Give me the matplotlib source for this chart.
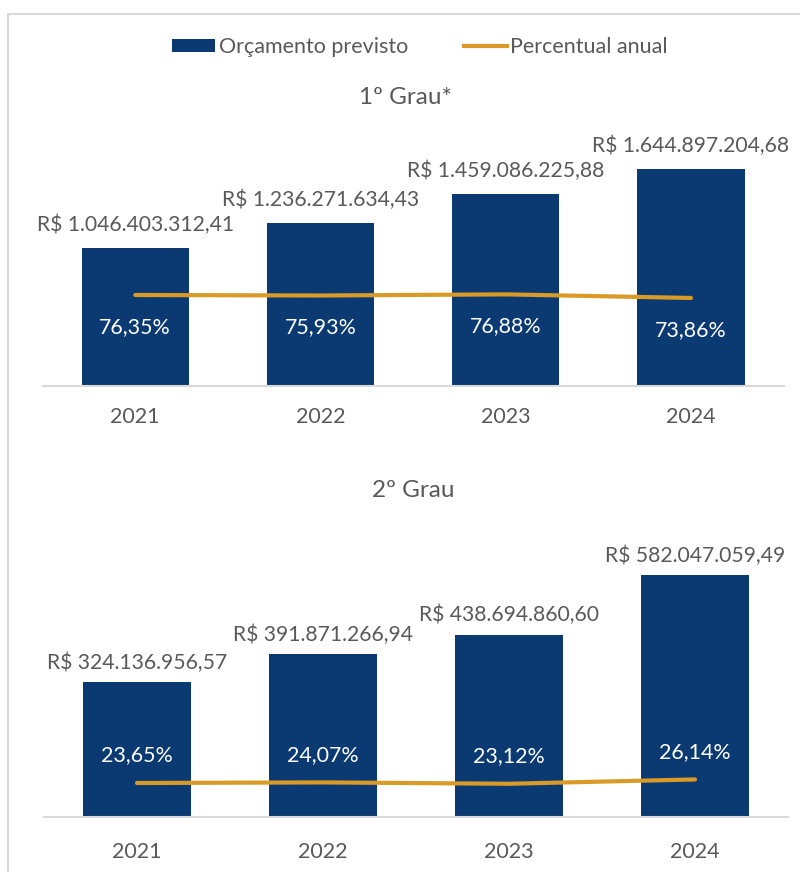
import matplotlib.pyplot as plt
from matplotlib.patches import Rectangle
from matplotlib.lines import Line2D
from matplotlib.patches import Patch

# dados
anos = ['2021', '2022', '2023', '2024']
orc_1grau = [1046403312.41, 1236271634.43, 1459086225.88, 1644897204.68]
pct_1grau = [76.35, 75.93, 76.88, 73.86]
orc_2grau = [324136956.57, 391871266.94, 438694860.60, 582047059.49]
pct_2grau = [23.65, 24.07, 23.12, 26.14]

AZUL = '#0B3A73'
OURO = '#D99A26'
CINZA = '#595959'
FONTE = ['Lato', 'DejaVu Sans']

plt.rcParams['font.family'] = FONTE


def brl(v):
    s = f'{v:,.2f}'
    s = s.replace(',', 'X').replace('.', ',').replace('X', '.')
    return 'R$ ' + s


def pct(v):
    return f'{v:.2f}%'.replace('.', ',')


fig = plt.figure(figsize=(8, 8.72), dpi=100)
W, H = 800, 872


def painel(rect, valores, percentuais, ylim, ylim2, off_val, off_pct, pad):
    ax = fig.add_axes(rect)
    x = range(len(anos))
    ax.bar(x, valores, width=0.58, color=AZUL, zorder=2)
    ax.set_ylim(0, ylim)
    ax.set_xlim(-0.5, len(anos) - 0.5)
    for s in ['top', 'right', 'left']:
        ax.spines[s].set_visible(False)
    ax.spines['bottom'].set_color('#D9D9D9')
    ax.spines['bottom'].set_linewidth(1.5)
    ax.set_yticks([])
    ax.set_xticks(list(x))
    ax.set_xticklabels(anos, fontsize=15.5, color=CINZA)
    ax.tick_params(axis='x', length=0, pad=pad)
    for i, v in enumerate(valores):
        ax.annotate(brl(v), (i, v), xytext=(0, off_val), textcoords='offset points',
                    ha='center', va='center', fontsize=15.2, color=CINZA)

    ax2 = ax.twinx()
    ax2.set_ylim(0, ylim2)
    ax2.plot(list(x), percentuais, color=OURO, lw=3, solid_capstyle='round', zorder=3)
    ax2.axis('off')
    for i, p in enumerate(percentuais):
        ax2.annotate(pct(p), (i, p), xytext=(0, off_pct), textcoords='offset points',
                     ha='center', va='center', fontsize=15.4, color='white')
    return ax


# 1º grau: base em y=386 px, topo do eixo em y=130 px
painel([42.6 / W, 1 - 386 / H, 741 / W, 256 / H], orc_1grau, pct_1grau,
       256 * 0.00758e9, 256 * 0.839, 16.5, -23, 15)
# 2º grau: base em y=817 px
painel([44 / W, 1 - 817 / H, 744 / W, 257 / H], orc_2grau, pct_2grau,
       257 * 2.405e6, 257 * 0.6956, 14, 20, 18)

fig.text(405 / W, 1 - 98 / H, '1º Grau*', ha='center', va='center', fontsize=17.5, color=CINZA)
fig.text(413 / W, 1 - 490 / H, '2º Grau', ha='center', va='center', fontsize=17.5, color=CINZA)

handles = [Patch(facecolor=AZUL, label='Orçamento previsto'),
           Line2D([0], [0], color=OURO, lw=3, label='Percentual anual')]
fig.legend(handles=handles, loc='center', bbox_to_anchor=(420 / W, 1 - 47 / H), ncol=2,
           frameon=False, fontsize=15.5, labelcolor=CINZA, handlelength=2.0,
           handleheight=0.6, handletextpad=0.15, columnspacing=2.6)

# moldura do gráfico
fig.add_artist(Rectangle((8 / W, -0.1), 1.5, 1.1 - 14 / H, transform=fig.transFigure,
                         fill=False, edgecolor='#D9D9D9', lw=1.5))

fig.savefig('out.png', dpi=100)
